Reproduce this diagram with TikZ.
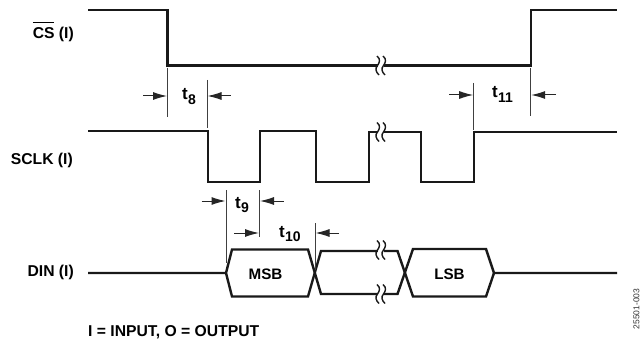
\documentclass[tikz,border=0pt]{standalone}
\usepackage{fontspec}
\setmainfont{Liberation Sans}
\usetikzlibrary{arrows.meta}
\tikzset{
  sig/.style={line width=2.4pt,line join=miter,line cap=butt,black!90},
  tick/.style={line width=1pt,black!75},
  dim/.style={line width=1pt,-{Latex[length=14pt,width=8pt]},black!85},
  lab/.style={font=\bfseries\fontsize{15.7}{18}\selectfont,inner sep=0pt,anchor=base east},
  tl/.style={inner sep=0pt,anchor=base west},
  hexlab/.style={font=\bfseries\fontsize{15.2}{18}\selectfont,inner sep=0pt,anchor=base},
  brk/.style={line width=1.4pt,black!90}
}
\newcommand{\brksym}[2]{%
  \begin{scope}[shift={(#1,#2)}]
  \fill[white] (-2,-4) rectangle (3.5,4);
  \foreach \dx in {-2,4}{
    \draw[brk,xshift=\dx pt] (-1,-9.5) .. controls (3,-6) and (1.5,-3) .. (-0.5,0) .. controls (-3,3) and (-2.5,6) .. (1,9.5);
  }
  \end{scope}}
\newcommand{\tlabel}[2]{{\bfseries\fontsize{17}{20}\selectfont #1\kern0.3pt\fontsize{14}{16}\selectfont\raisebox{-4.5pt}{#2}}}
\begin{document}
\begin{tikzpicture}[x=1pt,y=-1pt]
\useasboundingbox (0,0) rectangle (641,345);
% signals
\draw[sig] (88,10) -- (167.5,10) -- (167.5,65.5) -- (531,65.5) -- (531,10) -- (617,10);
\draw[sig] (88,131) -- (208,131) -- (208,182) -- (260,182) -- (260,131) -- (316,131) -- (316,182) -- (369,182) -- (369,132) -- (421,132) -- (421,182) -- (474,182) -- (474,132) -- (617,132);
\draw[sig] (88,273) -- (226,273) -- (232,249.5) -- (308,249.5) -- (321,294) -- (397.5,294) -- (413,249) -- (486,249) -- (494,273) -- (617,273);
\draw[sig] (226,273) -- (232,296.5) -- (308,296.5) -- (321,251) -- (397.5,251) -- (413,296.5) -- (486,296.5) -- (494,273);
% breaks
\brksym{380}{65.5}
\brksym{380}{132}
\brksym{380}{250}
\brksym{380}{294}
% ticks
\draw[tick] (167.5,68) -- (167.5,117);
\draw[tick] (207,80) -- (207,128);
\draw[tick] (226,190) -- (226,263);
\draw[tick] (259.5,190) -- (259.5,237);
\draw[tick] (315,223) -- (315,270);
\draw[tick] (473.7,83) -- (473.7,130);
\draw[tick] (530.7,68) -- (530.7,116);
% arrows
\draw[dim] (143,96) -- (167,96);
\draw[dim] (230.5,96) -- (207.5,96);
\draw[dim] (201.5,201) -- (225.5,201);
\draw[dim] (283.5,201) -- (260,201);
\draw[dim] (234,233) -- (259,233);
\draw[dim] (339,233) -- (315.5,233);
\draw[dim] (449,95) -- (473.2,95);
\draw[dim] (556,95) -- (531.2,95);
% labels
\node[lab] (l1) at (74,39) {\rlap{\raisebox{16.5pt}{\rule{21pt}{0.9pt}}}CS (I)};
\node[lab] (l2) at (73,164.5) {SCLK (I)};
\node[lab] (l3) at (74,276.5) {DIN (I)};
\node[lab,anchor=base west] (l4) at (88,336) {I = INPUT, O = OUTPUT};
\node[tl] (t8) at (182,100) {\tlabel{t}{8}};
\node[tl] (t9) at (235,208) {\tlabel{t}{9}};
\node[tl] (t10) at (279,237) {\tlabel{t}{10}};
\node[tl] (t11) at (492,98) {\tlabel{t}{11}};
\node[hexlab] (msb) at (265.5,279.3) {MSB};
\node[hexlab] (lsb) at (449.5,279.3) {LSB};
\node[font=\fontsize{8.5}{10}\selectfont,rotate=90,inner sep=0pt,black!80] (code) at (636.5,309) {25501-003};
\end{tikzpicture}
\end{document}
